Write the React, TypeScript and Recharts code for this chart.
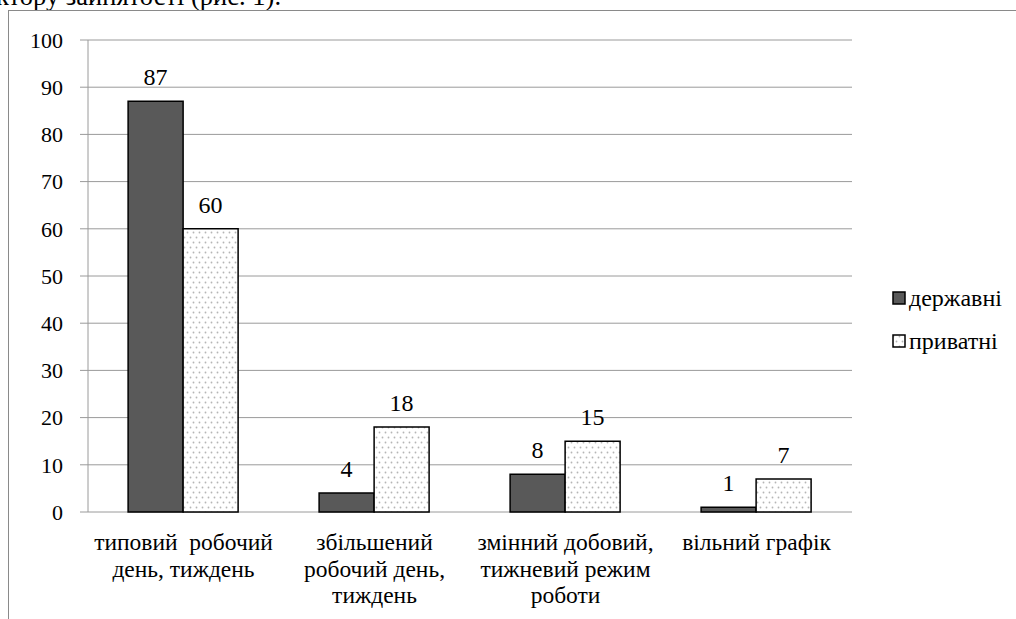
import React from 'react';
import { BarChart, Bar, XAxis, YAxis, CartesianGrid, LabelList } from 'recharts';

const categories: string[][] = [
  ['типовий  робочий', 'день, тиждень'],
  ['збільшений', 'робочий день,', 'тиждень'],
  ['змінний добовий,', 'тижневий режим', 'роботи'],
  ['вільний графік'],
];
const stateValues = [87, 4, 8, 1];
const privateValues = [60, 18, 15, 7];
const yTicks = [0, 10, 20, 30, 40, 50, 60, 70, 80, 90, 100];
const boundaryTicks = [0, 1, 2, 3, 4];
const seriesNames = ['державні', 'приватні'];

const data = categories.map((c, i) => ({
  name: c.join(' '),
  idx: i,
  state: stateValues[i],
  priv: privateValues[i],
}));

const FONT = 'Liberation Serif, DejaVu Serif, serif';
const GRID = '#9a9a9a';

const XTick = (props: any) => {
  const { x, y, payload } = props;
  const lines = categories[payload.index] || [];
  return (
    <g>
      <text x={x} y={y} textAnchor="middle" fontFamily={FONT} style={{ fontFamily: FONT, fontSize: 23.5 }} fill="#000">
        {lines.map((l, i) => (
          <tspan key={i} x={x} dy={i === 0 ? 30 : 26.5} style={{ whiteSpace: 'pre' }}>
            {l}
          </tspan>
        ))}
      </text>
    </g>
  );
};

const ValueLabel = (props: any) => {
  const { x, y, width, value } = props;
  return (
    <text x={x + width / 2} y={y - 16} textAnchor="middle" fill="#000" fontFamily={FONT} style={{ fontFamily: FONT, fontSize: 24 }}>
      {value}
    </text>
  );
};

const LegendBox = () => (
  <div style={{ position: 'absolute', left: 892, top: 285, fontFamily: FONT, fontSize: 24, color: '#000' }}>
    {seriesNames.map((n, i) => (
      <div key={n} style={{ display: 'flex', alignItems: 'center', height: 26, marginBottom: i === 0 ? 17 : 0 }}>
        <svg width={14} height={14} style={{ marginRight: 3 }}>
          <rect x={1} y={1} width={12} height={12} fill={i === 0 ? '#595959' : 'url(#dots)'} stroke="#000" strokeWidth={1.5} />
        </svg>
        <span style={{ whiteSpace: 'nowrap' }}>{n}</span>
      </div>
    ))}
  </div>
);

export default function App() {
  return (
    <div style={{ position: 'absolute', left: 0, top: 0, width: 1016, height: 619, overflow: 'hidden', background: '#fff', fontFamily: FONT }}>
      <svg width={1016} height={619} style={{ position: 'absolute', left: 0, top: 0 }}>
        <defs>
          <pattern id="dots" width="6" height="10" patternUnits="userSpaceOnUse">
            <rect width="6" height="10" fill="#fff" />
            <circle cx="1.5" cy="2.5" r="0.9" fill="#b5b5b5" />
            <circle cx="4.5" cy="7.5" r="0.9" fill="#b5b5b5" />
          </pattern>
        </defs>
        <text x={-4} y={5} style={{ fontFamily: FONT, fontSize: 26.5 }} fill="#000">ктору зайнятості (рис. 1).</text>
        <rect x={8.5} y={10.5} width={1020} height={640} fill="none" stroke="#8a8a8a" strokeWidth={1} />
      </svg>
      <div style={{ position: 'absolute', left: 0, top: 0 }}>
        <BarChart
          width={1016}
          height={619}
          data={data}
          margin={{ top: 40, right: 164, bottom: 0, left: 0 }}
          barCategoryGap="21%"
          barGap={0}
        >
          <CartesianGrid vertical={false} stroke={GRID} strokeWidth={1} />
          <XAxis
            xAxisId="b"
            type="number"
            domain={[0, 4]}
            ticks={boundaryTicks}
            allowDataOverflow
            height={0}
            tickSize={8}
            tickLine={{ stroke: GRID }}
            axisLine={{ stroke: GRID }}
            tick={() => <g />}
          />
          <XAxis
            dataKey="name"
            height={107}
            tickLine={false}
            axisLine={false}
            interval={0}
            tick={<XTick />}
          />
          <YAxis
            width={88}
            domain={[0, 100]}
            ticks={yTicks}
            interval={0}
            tickSize={8}
            tickMargin={17}
            tickLine={{ stroke: GRID }}
            axisLine={{ stroke: GRID }}
            tick={{ fill: '#000', fontSize: 22, style: { fontFamily: FONT } }}
          />
          <Bar dataKey="state" name={seriesNames[0]} fill="#595959" stroke="#000" strokeWidth={1.5} isAnimationActive={false}>
            <LabelList dataKey="state" content={<ValueLabel />} />
          </Bar>
          <Bar dataKey="priv" name={seriesNames[1]} fill="url(#dots)" stroke="#000" strokeWidth={1.5} isAnimationActive={false}>
            <LabelList dataKey="priv" content={<ValueLabel />} />
          </Bar>
        </BarChart>
      </div>
      <LegendBox />
    </div>
  );
}
